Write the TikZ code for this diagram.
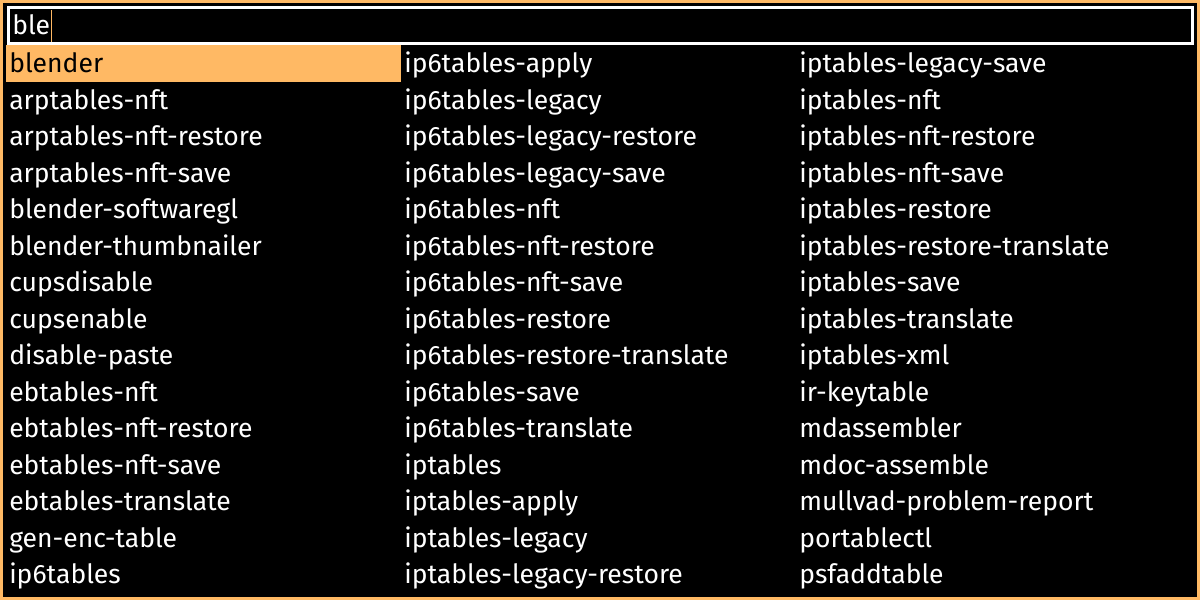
\documentclass[tikz,border=0pt]{standalone}
\usepackage{fontspec}
\setmainfont{Fira Sans}
\usepackage{tikz}
\usetikzlibrary{calc}
\definecolor{menuorange}{RGB}{255,185,100}
\tikzset{
  entry/.style={anchor=base west,inner sep=0pt,text=white,font=\fontsize{19.9}{19.9}\selectfont},
  picked/.style={entry,text=black},
}
\begin{document}
\begin{tikzpicture}[x=0.75pt,y=0.75pt,yscale=-1,xscale=1]
        \useasboundingbox (0,0) rectangle (1200,600);
        %Shape: Rectangle [id:frame] 
        \draw [draw=menuorange,fill=black,line width=1.9pt] (1.25,1.25) rectangle (1198.75,598.75);
        %Shape: Rectangle [id:prompt] 
        \draw [draw=white,line width=2.25pt] (8.5,7.5) rectangle (1192.5,43.5);
        %Shape: Rectangle [id:selection] 
        \fill [menuorange] (6,45) rectangle (401,82);
        % Text Node
        \node (query) [entry] at (12,34) {ble};
        %Straight Lines [id:cursor] 
        \draw [menuorange,line width=0.9pt] (query.base east) ++(1.5,-24) coordinate (caret) -- ++(0,32);
        % column 1
        \node (a1) [picked] at (9,72.5) {blender};
        \node (a2) [entry] at (9,109) {arptables-nft};
        \node (a3) [entry] at (9,145.5) {arptables-nft-restore};
        \node (a4) [entry] at (9,182) {arptables-nft-save};
        \node (a5) [entry] at (9,218.5) {blender-softwaregl};
        \node (a6) [entry] at (9,255) {blender-thumbnailer};
        \node (a7) [entry] at (9,291.5) {cupsdisable};
        \node (a8) [entry] at (9,328) {cupsenable};
        \node (a9) [entry] at (9,364.5) {disable-paste};
        \node (a10) [entry] at (9,401) {ebtables-nft};
        \node (a11) [entry] at (9,437.5) {ebtables-nft-restore};
        \node (a12) [entry] at (9,474) {ebtables-nft-save};
        \node (a13) [entry] at (9,510.5) {ebtables-translate};
        \node (a14) [entry] at (9,547) {gen-enc-table};
        \node (a15) [entry] at (9,583.5) {ip6tables};
        % column 2
        \node (b1) [entry] at (404,72.5) {ip6tables-apply};
        \node (b2) [entry] at (404,109) {ip6tables-legacy};
        \node (b3) [entry] at (404,145.5) {ip6tables-legacy-restore};
        \node (b4) [entry] at (404,182) {ip6tables-legacy-save};
        \node (b5) [entry] at (404,218.5) {ip6tables-nft};
        \node (b6) [entry] at (404,255) {ip6tables-nft-restore};
        \node (b7) [entry] at (404,291.5) {ip6tables-nft-save};
        \node (b8) [entry] at (404,328) {ip6tables-restore};
        \node (b9) [entry] at (404,364.5) {ip6tables-restore-translate};
        \node (b10) [entry] at (404,401) {ip6tables-save};
        \node (b11) [entry] at (404,437.5) {ip6tables-translate};
        \node (b12) [entry] at (404,474) {iptables};
        \node (b13) [entry] at (404,510.5) {iptables-apply};
        \node (b14) [entry] at (404,547) {iptables-legacy};
        \node (b15) [entry] at (404,583.5) {iptables-legacy-restore};
        % column 3
        \node (c1) [entry] at (799,72.5) {iptables-legacy-save};
        \node (c2) [entry] at (799,109) {iptables-nft};
        \node (c3) [entry] at (799,145.5) {iptables-nft-restore};
        \node (c4) [entry] at (799,182) {iptables-nft-save};
        \node (c5) [entry] at (799,218.5) {iptables-restore};
        \node (c6) [entry] at (799,255) {iptables-restore-translate};
        \node (c7) [entry] at (799,291.5) {iptables-save};
        \node (c8) [entry] at (799,328) {iptables-translate};
        \node (c9) [entry] at (799,364.5) {iptables-xml};
        \node (c10) [entry] at (799,401) {ir-keytable};
        \node (c11) [entry] at (799,437.5) {mdassembler};
        \node (c12) [entry] at (799,474) {mdoc-assemble};
        \node (c13) [entry] at (799,510.5) {mullvad-problem-report};
        \node (c14) [entry] at (799,547) {portablectl};
        \node (c15) [entry] at (799,583.5) {psfaddtable};
\end{tikzpicture}
\end{document}
